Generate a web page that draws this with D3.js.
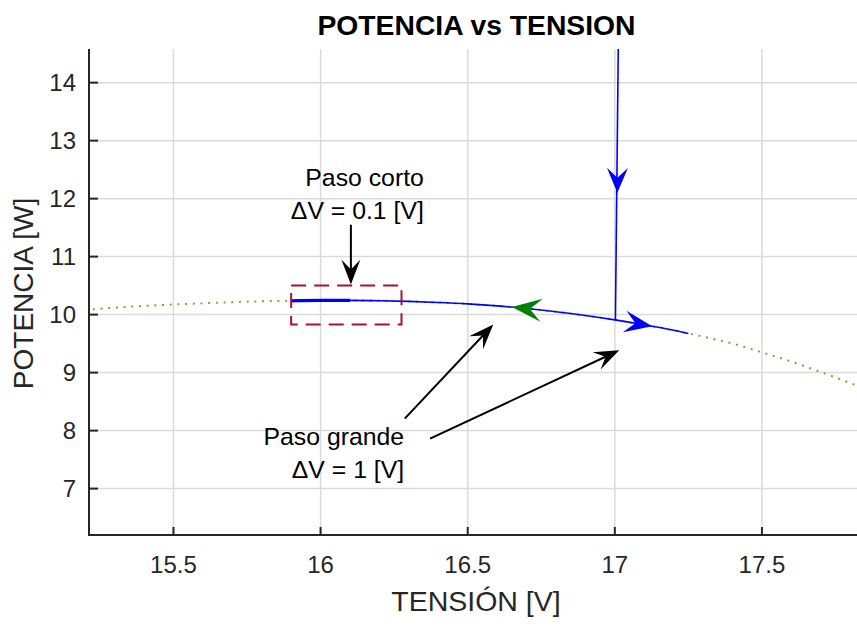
<!DOCTYPE html>
<html>
<head>
<meta charset="utf-8">
<script src="https://cdn.jsdelivr.net/npm/d3@7"></script>
<style>
  html, body { margin: 0; padding: 0; background: #fff; }
  svg { display: block; font-family: "Liberation Sans", Arial, Helvetica, sans-serif; }
</style>
</head>
<body>
<svg id="chart" width="857" height="629"></svg>
<script>
// ---- data ----
const pvVoltage = [15.2, 15.3, 15.4, 15.5, 15.6, 15.7, 15.8, 15.9, 16.0, 16.1, 16.2, 16.3, 16.4, 16.5, 16.6, 16.7, 16.8, 16.9, 17.0, 17.1, 17.2, 17.3, 17.4, 17.5, 17.6, 17.7, 17.8, 17.9];
const pvPower   = [10.08, 10.12, 10.15, 10.175, 10.195, 10.215, 10.23, 10.238, 10.244, 10.245, 10.24, 10.228, 10.21, 10.185, 10.15, 10.105, 10.05, 9.985, 9.91, 9.825, 9.73, 9.62, 9.50, 9.35, 9.19, 9.01, 8.82, 8.62];

const trackVoltage = [15.9, 16.0, 16.1, 16.2, 16.3, 16.4, 16.5, 16.6, 16.7, 16.8, 16.9, 17.0, 17.1, 17.2, 17.25];
const trackPower   = [10.238, 10.244, 10.245, 10.24, 10.228, 10.21, 10.185, 10.15, 10.105, 10.05, 9.985, 9.91, 9.825, 9.73, 9.675];

const shortStepVoltage = [15.9, 16.0, 16.1];
const shortStepPower   = [10.238, 10.244, 10.245];

const descentVoltage = [17.0125, 17.002];
const descentPower   = [15.0, 9.91];

const boxVoltage = [15.9, 16.275];
const boxPower   = [9.83, 10.5];

const xTicks = [15.5, 16, 16.5, 17, 17.5];
const yTicks = [7, 8, 9, 10, 11, 12, 13, 14];
const xDomain = [15.213, 17.823];
const yDomain = [6.2, 14.58];

// direction arrowheads: tip and a point they come from
const dirArrows = [
  { tip: [17.0085, 12.10], from: [17.0095, 13.0], color: "#0000ff", L: 25, W: 10.5, N: 15 },
  { tip: [17.127, 9.80],  from: [17.0, 9.91],    color: "#0000ff", L: 28, W: 11,   N: 17 },
  { tip: [16.65, 10.13],  from: [16.8, 10.05],   color: "#008000", L: 30, W: 11.5, N: 18 }
];

// annotation arrows (data coords)
const noteArrows = [
  { from: [16.103, 11.55], to: [16.103, 10.52] },
  { from: [16.286, 8.207], to: [16.587, 9.828] },
  { from: [16.372, 7.862], to: [17.015, 9.384] }
];
const noteTexts = [
  { lines: ["Paso corto", "\u0394V = 0.1 [V]"], at: [16.351, 12.217] },
  { lines: ["Paso grande", "\u0394V = 1 [V]"], at: [16.284, 7.752] }
];

const titleText = "POTENCIA vs TENSION";
const xLabel = "TENSIÓN [V]";
const yLabel = "POTENCIA [W]";

// ---- layout ----
const mLeft = 89, mRight = 857, mTop = 49, mBottom = 535;
const svg = d3.select("#chart");

const x = d3.scaleLinear().domain(xDomain).range([mLeft, mRight]);
const y = d3.scaleLinear().domain(yDomain).range([mBottom, mTop]);

svg.append("defs").append("clipPath").attr("id", "clip")
  .append("rect").attr("x", mLeft).attr("y", mTop).attr("width", mRight - mLeft).attr("height", mBottom - mTop);

// grid
const grid = svg.append("g");
grid.selectAll(".gx").data(xTicks).join("line")
  .attr("x1", d => x(d)).attr("x2", d => x(d)).attr("y1", mTop).attr("y2", mBottom)
  .attr("stroke", "#dadada").attr("stroke-width", 1.5);
grid.selectAll(".gy").data(yTicks).join("line")
  .attr("y1", d => y(d)).attr("y2", d => y(d)).attr("x1", mLeft).attr("x2", mRight)
  .attr("stroke", "#dadada").attr("stroke-width", 1.5);

const plot = svg.append("g").attr("clip-path", "url(#clip)");

const line = d3.line().x(d => x(d[0])).y(d => y(d[1])).curve(d3.curveMonotoneX);

// dotted full PV curve
plot.append("path")
  .datum(pvVoltage.map((v, i) => [v, pvPower[i]]))
  .attr("d", line)
  .attr("fill", "none").attr("stroke", "#77ac30").attr("stroke-width", 2)
  .attr("stroke-dasharray", "2,5.7");

// blue trajectory along curve
plot.append("path")
  .datum(trackVoltage.map((v, i) => [v, trackPower[i]]))
  .attr("d", line)
  .attr("fill", "none").attr("stroke", "#0000ff").attr("stroke-width", 1.6);

// thick short-step segment
plot.append("path")
  .datum(shortStepVoltage.map((v, i) => [v, shortStepPower[i]]))
  .attr("d", line)
  .attr("fill", "none").attr("stroke", "#0000ff").attr("stroke-width", 3.2);

// vertical descent
plot.append("path")
  .datum(descentVoltage.map((v, i) => [v, descentPower[i]]))
  .attr("d", d3.line().x(d => x(d[0])).y(d => y(d[1])))
  .attr("fill", "none").attr("stroke", "#0000ff").attr("stroke-width", 1.6);

// dashed box
plot.append("rect")
  .attr("x", x(boxVoltage[0])).attr("y", y(boxPower[1]))
  .attr("width", x(boxVoltage[1]) - x(boxVoltage[0]))
  .attr("height", y(boxPower[0]) - y(boxPower[1]))
  .attr("fill", "none").attr("stroke", "#a2142f").attr("stroke-width", 2)
  .attr("stroke-dasharray", "15,8");

function head(tipPx, fromPx, L, Wd, N) {
  const dx = tipPx[0] - fromPx[0], dy = tipPx[1] - fromPx[1];
  const len = Math.hypot(dx, dy);
  const ux = dx / len, uy = dy / len;
  const nx = -uy, ny = ux;
  const t = tipPx;
  const p1 = [t[0] - L * ux + Wd * nx, t[1] - L * uy + Wd * ny];
  const p2 = [t[0] - N * ux, t[1] - N * uy];
  const p3 = [t[0] - L * ux - Wd * nx, t[1] - L * uy - Wd * ny];
  return `M${t[0]},${t[1]}L${p1[0]},${p1[1]}L${p2[0]},${p2[1]}L${p3[0]},${p3[1]}Z`;
}

plot.selectAll(".dirhead").data(dirArrows).join("path")
  .attr("d", d => head([x(d.tip[0]), y(d.tip[1])], [x(d.from[0]), y(d.from[1])], d.L, d.W, d.N))
  .attr("fill", d => d.color).attr("stroke", "none");

// annotation arrows
const notes = svg.append("g");
noteArrows.forEach(a => {
  const f = [x(a.from[0]), y(a.from[1])], t = [x(a.to[0]), y(a.to[1])];
  const dx = t[0] - f[0], dy = t[1] - f[1];
  const len = Math.hypot(dx, dy);
  const endPx = [t[0] - 14 * dx / len, t[1] - 14 * dy / len];
  notes.append("line")
    .attr("x1", f[0]).attr("y1", f[1]).attr("x2", endPx[0]).attr("y2", endPx[1])
    .attr("stroke", "#000").attr("stroke-width", 2);
  notes.append("path").attr("d", head(t, f, 25, 9.5, 15)).attr("fill", "#000");
});

noteTexts.forEach(n => {
  const tx = x(n.at[0]), ty = y(n.at[1]);
  const t = notes.append("text").attr("text-anchor", "end")
    .attr("font-size", 24.8).attr("fill", "#000");
  n.lines.forEach((ln, i) => {
    t.append("tspan").attr("x", tx).attr("y", ty + i * 33).text(ln);
  });
});

// axes
const axisColor = "#262626";
svg.append("line").attr("x1", mLeft).attr("x2", mLeft).attr("y1", mTop).attr("y2", mBottom + 1)
  .attr("stroke", axisColor).attr("stroke-width", 2);
svg.append("line").attr("x1", mLeft - 1).attr("x2", mRight).attr("y1", mBottom).attr("y2", mBottom)
  .attr("stroke", axisColor).attr("stroke-width", 2);

svg.selectAll(".xt").data(xTicks).join("line")
  .attr("x1", d => x(d)).attr("x2", d => x(d)).attr("y1", mBottom).attr("y2", mBottom - 8)
  .attr("stroke", axisColor).attr("stroke-width", 2);
svg.selectAll(".yt").data(yTicks).join("line")
  .attr("y1", d => y(d)).attr("y2", d => y(d)).attr("x1", mLeft).attr("x2", mLeft + 9)
  .attr("stroke", axisColor).attr("stroke-width", 2);

svg.selectAll(".xl").data(xTicks).join("text")
  .attr("x", d => x(d)).attr("y", 573).attr("text-anchor", "middle")
  .attr("font-size", 24).attr("fill", axisColor).text(d => d3.format("")(d));
svg.selectAll(".yl").data(yTicks).join("text")
  .attr("x", 76).attr("y", d => y(d)).attr("dy", "0.35em").attr("text-anchor", "end")
  .attr("font-size", 24).attr("fill", axisColor).text(d => d);

svg.append("text").attr("x", 476).attr("y", 611).attr("text-anchor", "middle")
  .attr("font-size", 28.5).attr("fill", axisColor).text(xLabel);
svg.append("text").attr("transform", "translate(33,293.5) rotate(-90)").attr("text-anchor", "middle")
  .attr("font-size", 28).attr("fill", axisColor).text(yLabel);
svg.append("text").attr("x", 476.5).attr("y", 35).attr("text-anchor", "middle")
  .attr("font-size", 28.3).attr("font-weight", "bold").attr("fill", "#000").text(titleText);
</script>
</body>
</html>
